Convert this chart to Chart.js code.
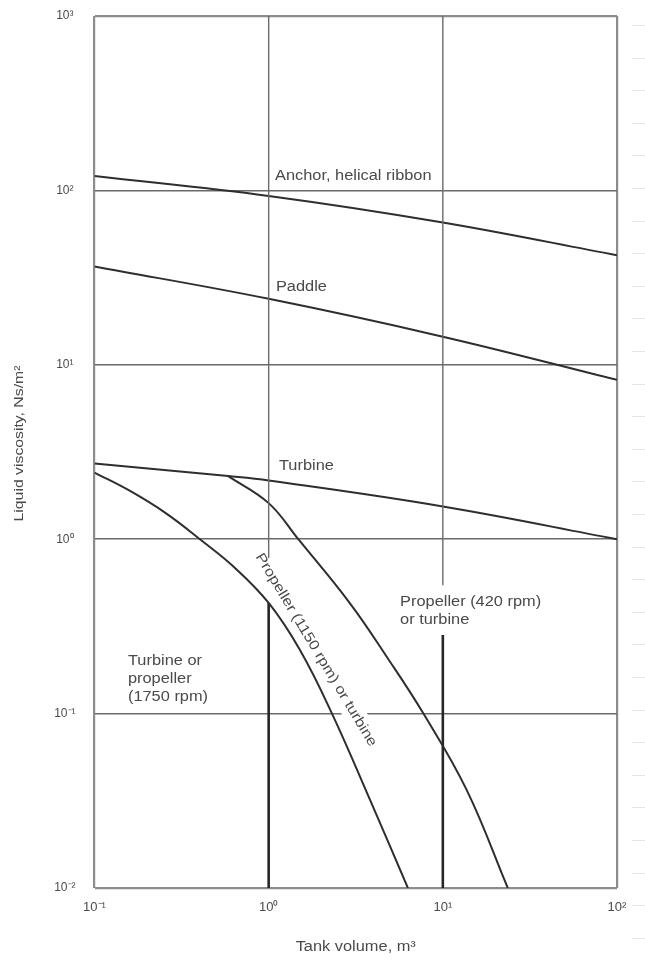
<!DOCTYPE html>
<html><head><meta charset="utf-8">
<script src="https://cdn.jsdelivr.net/npm/chart.js@4/dist/chart.umd.min.js"></script>
<style>html,body{margin:0;padding:0;background:#fff;} #wrap{width:645px;height:961px;position:relative;} canvas{display:block;}</style>
</head><body><div id="wrap"><canvas id="c" width="645" height="961" style="width:645px;height:961px"></canvas></div>
<script>
// ---- tick values and labels ----
const xTicks = [0.1, 1, 10, 100];
const yTicks = [0.01, 0.1, 1, 10, 100, 1000];
const xTickLabels = ['10\u207B\u00B9', '10\u2070', '10\u00B9', '10\u00B2'];
const yTickLabels = ['10\u207B\u00B2', '10\u207B\u00B9', '10\u2070', '10\u00B9', '10\u00B2', '10\u00B3'];

// ---- curves (tank volume m3 -> liquid viscosity Ns/m2) ----
const anchorX = [0.1, 1, 10, 100];
const anchorY = [121, 93, 65.5, 42.5];
const paddleX = [0.1, 1, 10, 100];
const paddleY = [36.6, 23.9, 14.5, 8.2];
const turbineX = [0.1, 0.586, 1, 10, 100];
const turbineY = [2.72, 2.3, 2.17, 1.54, 1.0];
const prop1750X = [0.1, 0.16, 0.254, 0.403, 0.632, 1, 1.51, 2.31, 3.82, 6.3];
const prop1750Y = [2.41, 1.89, 1.42, 1.0, 0.693, 0.431, 0.232, 0.1, 0.032, 0.01];
const prop1150X = [0.586, 1, 1.48, 2.93, 4.76, 7.69, 13.7, 23.6];
const prop1150Y = [2.3, 1.61, 1.0, 0.429, 0.212, 0.101, 0.0365, 0.01];
// region boundaries (vertical)
const bound1X = [1, 1];   const bound1Y = [0.431, 0.01];
const bound10X = [10, 10]; const bound10Y = [0.282, 0.01];
// interior vertical grid segments
const grid1X = [1, 1];   const grid1Y = [1000, 0.78];
const grid10X = [10, 10]; const grid10Y = [1000, 0.545];

const pts = (xs, ys) => xs.map((x, i) => ({x: x, y: ys[i]}));

const CURVE = '#2e2e2e';
const GRID = '#6a6a6a';
const EDGE = '#8c8c8c';
const TXT = '#4a4a4a';
const FONT_FAMILY = '"Liberation Sans", Arial, Helvetica, sans-serif';
const STRETCH = 1.17;

function curve(data) {
  return {data, showLine: true, borderColor: CURVE, borderWidth: 2, pointRadius: 0,
          tension: 0.4, fill: false};
}
function straight(data, color, width) {
  return {data, showLine: true, borderColor: color, borderWidth: width, pointRadius: 0, tension: 0, fill: false};
}

const labelFont = '14px ' + FONT_FAMILY;
const plotLabels = [
  {lines: ['Anchor, helical ribbon'], x: 1.087, y: 121},
  {lines: ['Paddle'], x: 1.10, y: 27.9},
  {lines: ['Turbine'], x: 1.146, y: 2.63},
  {lines: ['Propeller (420 rpm)', 'or turbine'], x: 5.68, y: 0.436},
  {lines: ['Turbine or', 'propeller', '(1750 rpm)'], x: 0.1556, y: 0.2003}
];
const rotLabel = {text: 'Propeller (1150 rpm) or turbine', x: 1.87, y: 0.232, angle: 59};
const xTitle = 'Tank volume, m\u00B3';
const yTitle = 'Liquid viscosity, Ns/m\u00B2';

function stretchedText(ctx, t, x, y, sx) {
  ctx.save();
  ctx.translate(x, y);
  ctx.scale(sx, 1);
  ctx.fillText(t, 0, 0);
  ctx.restore();
}

const labelPlugin = {
  id: 'labels',
  beforeDatasetsDraw(chart) {
    const {ctx, scales: {x, y}} = chart;
    ctx.save();
    ctx.font = labelFont;
    const w = ctx.measureText(rotLabel.text).width * STRETCH;
    ctx.translate(x.getPixelForValue(rotLabel.x), y.getPixelForValue(rotLabel.y));
    ctx.rotate(rotLabel.angle * Math.PI / 180);
    ctx.fillStyle = '#fff';
    ctx.fillRect(-w / 2 - 6, -11, w + 12, 22);
    ctx.restore();
  },
  afterDatasetsDraw(chart) {
    const {ctx, scales: {x, y}} = chart;
    ctx.save();
    ctx.font = labelFont;
    ctx.fillStyle = TXT;
    ctx.textBaseline = 'middle';
    ctx.textAlign = 'left';
    plotLabels.forEach(l => {
      const px = x.getPixelForValue(l.x), py = y.getPixelForValue(l.y);
      l.lines.forEach((t, i) => stretchedText(ctx, t, px, py + i * 18, STRETCH));
    });
    ctx.save();
    ctx.translate(x.getPixelForValue(rotLabel.x), y.getPixelForValue(rotLabel.y));
    ctx.rotate(rotLabel.angle * Math.PI / 180);
    ctx.textAlign = 'center';
    stretchedText(ctx, rotLabel.text, 0, 0, STRETCH);
    ctx.restore();
    ctx.restore();
  },
  afterDraw(chart) {
    const {ctx, chartArea: a} = chart;
    ctx.save();
    ctx.fillStyle = TXT;
    ctx.textBaseline = 'middle';
    ctx.textAlign = 'center';
    // x axis title
    ctx.font = '14px ' + FONT_FAMILY;
    stretchedText(ctx, xTitle, (a.left + a.right) / 2, a.bottom + 59, STRETCH);
    // y axis title (reads bottom to top)
    ctx.font = '13.5px ' + FONT_FAMILY;
    ctx.save();
    ctx.translate(19.5, (a.top + a.bottom) / 2 - 8.5);
    ctx.rotate(-Math.PI / 2);
    stretchedText(ctx, yTitle, 0, 0, STRETCH);
    ctx.restore();
    // faint page marks at the right edge
    ctx.strokeStyle = '#e6e6e6';
    ctx.lineWidth = 1;
    for (let k = 0; k < 29; k++) {
      const yy = Math.round(25 + k * 32.6) + 0.5;
      ctx.beginPath(); ctx.moveTo(632, yy); ctx.lineTo(645, yy); ctx.stroke();
    }
    ctx.restore();
  }
};

new Chart(document.getElementById('c'), {
  type: 'scatter',
  data: {
    datasets: [
      straight(pts(grid1X, grid1Y), GRID, 1.4),
      straight(pts(grid10X, grid10Y), GRID, 1.4),
      curve(pts(anchorX, anchorY)),
      curve(pts(paddleX, paddleY)),
      curve(pts(turbineX, turbineY)),
      curve(pts(prop1750X, prop1750Y)),
      curve(pts(prop1150X, prop1150Y)),
      straight(pts(bound1X, bound1Y), '#262626', 2.6),
      straight(pts(bound10X, bound10Y), '#262626', 2.6)
    ]
  },
  options: {
    responsive: false,
    maintainAspectRatio: false,
    animation: false,
    devicePixelRatio: 1,
    layout: {padding: {top: 16, right: 28, bottom: 0, left: 0}},
    plugins: {legend: {display: false}, tooltip: {enabled: false}},
    scales: {
      x: {
        type: 'logarithmic', min: 0.1, max: 100,
        afterBuildTicks: s => { s.ticks = xTicks.map(v => ({value: v})); },
        afterFit: s => { s.height = 73; s.paddingLeft = 0; s.paddingRight = 0; },
        ticks: {callback: (v, i) => xTickLabels[i], color: TXT, padding: 12,
                font: {family: FONT_FAMILY, size: 13}, maxRotation: 0, autoSkip: false},
        grid: {drawTicks: false,
               color: c => (c.index === 0 || c.index === xTicks.length - 1) ? EDGE : 'rgba(0,0,0,0)',
               lineWidth: c => (c.index === 0 || c.index === xTicks.length - 1) ? 2.2 : 0},
        border: {display: false},
        title: {display: false}
      },
      y: {
        type: 'logarithmic', min: 0.01, max: 1000,
        afterBuildTicks: s => { s.ticks = yTicks.map(v => ({value: v})); },
        afterFit: s => { s.width = 94.5; s.paddingTop = 0; s.paddingBottom = 0; },
        ticks: {callback: (v, i) => yTickLabels[i], color: TXT, padding: 19, crossAlign: 'center',
                font: {family: FONT_FAMILY, size: 12}, autoSkip: false},
        grid: {drawTicks: false,
               color: c => (c.index === 0 || c.index === yTicks.length - 1) ? EDGE : GRID,
               lineWidth: c => (c.index === 0 || c.index === yTicks.length - 1) ? 2.2 : 1.4},
        border: {display: false},
        title: {display: false}
      }
    }
  },
  plugins: [labelPlugin]
});
</script>
</body></html>
